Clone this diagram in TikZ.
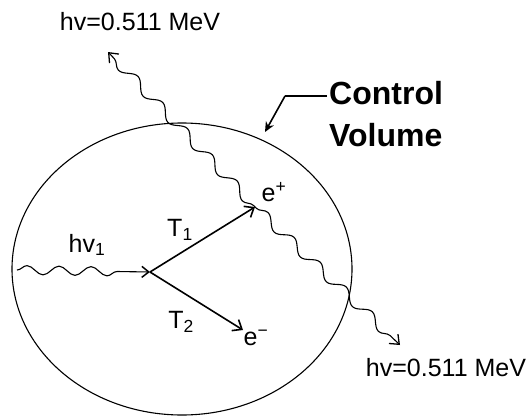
\documentclass[tikz,border=0pt]{standalone}
\usepackage{fontspec}
\setmainfont{Liberation Sans}
\usetikzlibrary{arrows.meta,decorations.pathmorphing}
\begin{document}
\begin{tikzpicture}[x=1pt,y=-1pt,
  lbl/.style={inner sep=0pt,font=\fontsize{25}{29}\selectfont},
  bigl/.style={inner sep=0pt,align=left,font=\fontsize{32}{42}\selectfont\bfseries},
  particle/.style={line width=1.6pt,-{Straight Barb[length=8pt,width=13pt,line width=1.6pt]}},
  photon/.style={line width=1.1pt,decorate,-{Straight Barb[length=8pt,width=13pt,line width=1.3pt]},
     decoration={snake,segment length=36pt,amplitude=5pt,pre length=2pt,post length=8pt}},
  incident/.style={line width=1.1pt,decorate,-{Straight Barb[length=7pt,width=11pt,line width=1.5pt]},
     decoration={snake,segment length=32pt,amplitude=4.5pt,post length=26pt}}]
\useasboundingbox (0,0) rectangle (530,418);
% control volume
\draw[line width=1.1pt] (182,269) ellipse [x radius=170pt, y radius=146pt];
% points
\coordinate (in) at (17,270);
\coordinate (v) at (150,272);
\coordinate (ep) at (255,207);
\coordinate (em) at (243,330);
\coordinate (g1) at (108,52);
\coordinate (g2) at (400,345);
\coordinate (bend) at (285,96);
\coordinate (cvtip) at (265,132);
% labels
\node[lbl] (top) at (140,22) {hv=0.511 MeV};
\node[lbl] (bot) at (446,368) {hv=0.511 MeV};
\node[lbl] (hv1) at (87,245) {hv\textsubscript{1}};
\node[lbl] (t1) at (180,230) {T\textsubscript{1}};
\node[lbl] (t2) at (181,322) {T\textsubscript{2}};
\node[lbl] (eplab) at (274,192) {e\textsuperscript{+}};
\node[lbl] (emlab) at (256,338) {e\textsuperscript{−}};
\node[bigl,anchor=north west] (cv) at (329,81) {Control\\Volume};
% connectors
\draw[incident] (in) -- (v);
\draw[particle] (v) -- (ep);
\draw[particle] (v) -- (em);
\draw[photon] (ep) -- (g1);
\draw[photon] (ep) -- (g2);
\draw[line width=1.3pt] (cv.north west |- bend) ++(-2,0) -- (bend);
\draw[line width=1.6pt,-{Stealth[length=10pt,width=9pt]}] (bend) -- (cvtip);
\end{tikzpicture}
\end{document}
